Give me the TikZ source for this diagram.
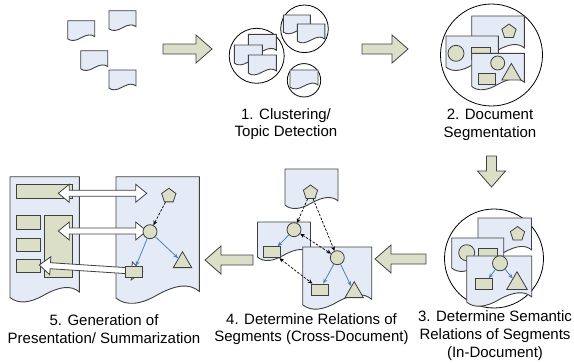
\documentclass[tikz,border=0pt]{standalone}
\usepackage{fontspec}
\setmainfont{Liberation Sans}
\usepackage{xcolor}
\usetikzlibrary{positioning, arrows.meta, shapes.geometric}
\definecolor{DocBlue}{HTML}{E4EAF6}
\definecolor{DocLine}{HTML}{404040}
\definecolor{SegKhaki}{HTML}{DCDFC7}
\definecolor{RelBlue}{HTML}{4F81BD}

\begin{document}
\begin{tikzpicture}[
  x=1pt, y=-1pt,
  docshape/.style={draw=DocLine, fill=DocBlue, line width=0.9pt},
  seg/.style={draw=DocLine, fill=SegKhaki, line width=0.8pt, inner sep=0pt},
  segcirc/.style={seg, circle, minimum size=#1},
  segrect/.style={seg, rectangle, minimum width=17pt, minimum height=11pt},
  segpent/.style={seg, regular polygon, regular polygon sides=5, minimum size=15pt},
  segtri/.style={seg, regular polygon, regular polygon sides=3, minimum size=#1},
  cluster/.style={draw=black, line width=0.8pt},
  blockarr/.style={draw=DocLine, fill=SegKhaki, line width=0.8pt},
  whitearr/.style={draw=DocLine, fill=white, line width=0.8pt},
  relarr/.style={-{Stealth[length=5pt, width=4pt]}, RelBlue, line width=0.8pt},
  dasharr/.style={-{Stealth[length=4.5pt, width=4pt]}, black, line width=0.7pt, dash pattern=on 2.5pt off 1.5pt},
  dasharrb/.style={dasharr, {Stealth[length=4.5pt, width=4pt]}-{Stealth[length=4.5pt, width=4pt]}},
  steplbl/.style={font=\fontsize{15}{17.7}\selectfont, align=center, inner sep=0pt},
  pics/docu/.style 2 args={code={
    \draw[docshape] (0,0) -- (#1,0) -- (#1,#2-0.04*#1)
      .. controls (0.88*#1,#2-0.14*#1) and (0.72*#1,#2-0.12*#1) .. (0.5*#1,#2)
      .. controls (0.3*#1,#2+0.12*#1) and (0.12*#1,#2+0.14*#1) .. (0,#2+0.04*#1) -- cycle;}},
  pics/bigarrow/.style={code={
    \draw[blockarr] (0,-5) -- (#1-16,-5) -- (#1-16,-14) -- (#1,0) -- (#1-16,14) -- (#1-16,5) -- (0,5) -- cycle;}},
  pics/dblarrow/.style={code={
    \draw[whitearr] (0,0) -- (11,-9) -- (11,-3) -- (#1-11,-3) -- (#1-11,-9) -- (#1,0)
      -- (#1-11,9) -- (#1-11,3) -- (11,3) -- (11,9) -- cycle;}},
]
  \useasboundingbox (0,0) rectangle (574,364);

  % loose documents
  \pic at (67.7,20.7) {docu={27}{17}};
  \pic at (109,10.7) {docu={27}{17}};
  \pic at (80.7,50.7) {docu={27}{17}};
  \pic at (109,70) {docu={27}{17}};

  % block arrows between the steps
  \pic at (163,49) {bigarrow=49};
  \pic at (362,49) {bigarrow=46};
  \pic[rotate=-90] at (491.5,156) {bigarrow=31};
  \pic[rotate=180] at (426,259) {bigarrow=51};
  \pic[rotate=180] at (253,260) {bigarrow=48};

  %% 1. clustering
  \draw[cluster] (256.7,55.8) circle[radius=27.5pt];
  \draw[cluster] (304.5,28.8) circle[radius=23.8pt];
  \draw[cluster] (304,80.3) circle[radius=16.7pt];
  \pic at (248.3,34.3) {docu={28}{17}};
  \pic at (234.3,45) {docu={28}{17}};
  \pic at (248.3,55) {docu={28}{17}};
  \pic at (283.3,15) {docu={27}{16}};
  \pic at (297.3,24) {docu={27.5}{16}};
  \pic at (290,70) {docu={28}{16}};
  \node[steplbl] (lbl1) at (286,124) {1. Clustering/\\Topic Detection};

  %% 2. segmentation
  \draw[cluster] (491.5,55) circle[radius=51pt];
  \pic at (471.7,16) {docu={52.6}{34}};
  \node[segpent] (p2) at (509,31.5) {};
  \pic at (446,36) {docu={52.3}{29}};
  \node[segcirc=16pt] (c2a) at (456,53.3) {};
  \node[segrect, minimum width=19pt, minimum height=12pt] (r2a) at (481.3,53) {};
  \pic at (471.7,53.3) {docu={52.6}{31}};
  \node[segcirc=14pt] (c2b) at (497.7,63) {};
  \node[segrect] (r2b) at (487,78.7) {};
  \node[segtri=22pt] (t2) at (511.4,74.4) {};
  \node[steplbl] (lbl2) at (490,125) {2. Document\\Segmentation};

  %% 3. semantic relations in one document
  \draw[cluster] (494,258.5) circle[radius=49.5pt];
  \pic at (478,218) {docu={53.5}{34}};
  \node[segpent] (p3) at (517.5,234) {};
  \pic at (451.7,238) {docu={52}{28}};
  \node[segcirc=16pt] (c3a) at (466.7,252.7) {};
  \node[segrect, minimum width=19pt, minimum height=12pt] (r3a) at (487.8,254.3) {};
  \pic at (466.7,256) {docu={65}{43.5}};
  \node[segcirc=15pt] (c3b) at (500,263.3) {};
  \node[segrect] (r3b) at (484.3,284.2) {};
  \node[segtri=23.8pt] (t3) at (517,283.6) {};
  \draw[relarr] (c3b) -- (r3b);
  \draw[relarr] (c3b) -- (t3);
  \node[steplbl] (lbl3) at (495,335.5) {3. Determine Semantic\\Relations of Segments\\(In-Document)};

  %% 4. relations across documents
  \pic at (285,169) {docu={53}{34}};
  \pic at (257.5,222) {docu={53}{33}};
  \pic at (302.7,247) {docu={69}{55}};
  \node[segpent] (p4) at (310.5,192.5) {};
  \node[segcirc=14pt] (c4a) at (294,229.7) {};
  \node[segrect] (r4a) at (271.7,252.3) {};
  \node[segcirc=14pt] (c4b) at (337.3,257.7) {};
  \node[segrect] (r4b) at (320,289.5) {};
  \node[segtri=21.2pt] (t4) at (354.2,292.3) {};
  \draw[dasharr] (p4) -- (c4a);
  \draw[dasharr] (p4) -- (c4b);
  \draw[dasharrb] (c4a) -- (c4b);
  \draw[dasharrb] (r4a) -- (r4b);
  \draw[relarr] (c4a) -- (r4a);
  \draw[relarr] (c4b) -- (r4b);
  \draw[relarr] (c4b) -- (t4);
  \node[steplbl] (lbl4) at (311.5,329) {4. Determine Relations of\\Segments (Cross-Document)};

  %% 5. presentation / summary
  \pic at (10,176.7) {docu={69.3}{118}};
  \pic at (116,176.7) {docu={83.3}{118}};
  \draw[seg] (16,184) rectangle (72.7,198.3);
  \draw[seg] (16,215.7) rectangle (40,229.3);
  \draw[seg] (16,238.3) rectangle (40,251.7);
  \draw[seg] (16,259.3) rectangle (40,272.7);
  \draw[seg] (44.3,215.7) rectangle (72.7,277.3);
  \pic at (58.3,193.3) {dblarrow=88.4};
  \pic at (58.3,231) {dblarrow=88.4};
  \pic[rotate=-3.7] at (39.3,265) {dblarrow=103.6};
  \node[segpent] (p5) at (168.8,195.8) {};
  \node[segcirc=14pt] (c5) at (150,231.7) {};
  \node[segrect] (r5) at (133.5,272) {};
  \node[segtri=21.2pt] (t5) at (182.5,262.3) {};
  \draw[dasharr] (p5) -- (c5);
  \draw[relarr] (c5) -- (r5);
  \draw[relarr] (c5) -- (t5);
  \node[steplbl] (lbl5) at (104,329) {5. Generation of\\Presentation/ Summarization};
\end{tikzpicture}
\end{document}
